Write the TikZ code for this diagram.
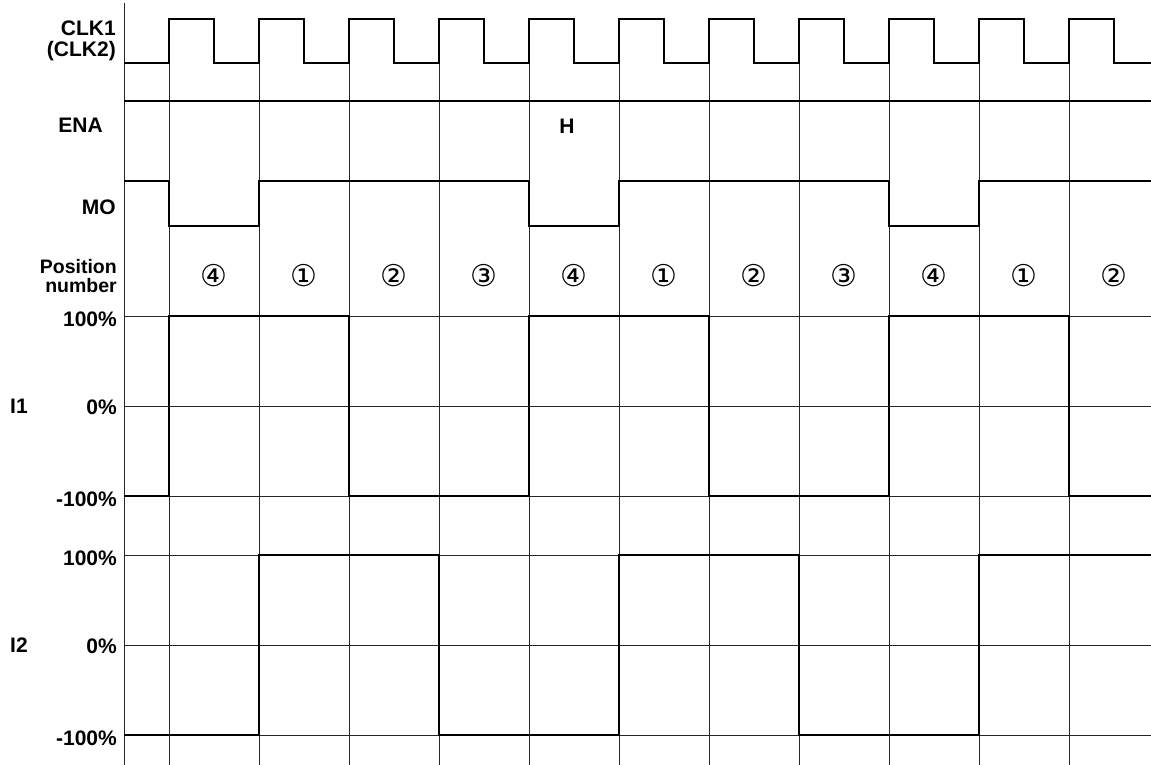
\documentclass[tikz,border=0pt]{standalone}
\usepackage{fontspec}
\setmainfont{Liberation Sans}
\newfontfamily\circfont{DejaVu Sans}
\usepackage{tikz}
\usetikzlibrary{positioning}

\newcommand{\circnum}[1]{{\circfont\ifcase#1\or ①\or ②\or ③\or ④\fi}}

\tikzset{
  gridline/.style={line width=0.8pt, black!85},
  sig/.style={line width=2pt, line join=miter},
  lbl/.style={font=\bfseries\fontsize{21}{21}\selectfont, anchor=east, align=right, inner sep=0pt},
}

\begin{document}
\begin{tikzpicture}[x=1pt, y=-1pt]
\useasboundingbox (0,0) rectangle (1151,765);
% grid
\draw[gridline] (124,3) -- (124,765);
\foreach \k in {0,...,10}
  \draw[gridline] ({169+90*\k},63) -- ({169+90*\k},765);
\foreach \y in {316,406,496,555,645,735}
  \draw[gridline] (124,\y) -- (1151,\y);

% signals
\draw[sig] (124,63) \foreach \k in {0,...,10} {
    -- ({169+90*\k},63) -- ({169+90*\k},19) -- ({214+90*\k},19) -- ({214+90*\k},63) } -- (1151,63);
\draw[sig] (124,101) -- (1151,101);
\draw[sig] (124,181) -- (169,181) -- (169,226) -- (259,226) -- (259,181) -- (529,181)
  -- (529,226) -- (619,226) -- (619,181) -- (889,181) -- (889,226) -- (979,226)
  -- (979,181) -- (1151,181);
\draw[sig] (124,496) -- (169,496) -- (169,316) -- (349,316) -- (349,496) -- (529,496)
  -- (529,316) -- (709,316) -- (709,496) -- (889,496) -- (889,316) -- (1069,316)
  -- (1069,496) -- (1151,496);
\draw[sig] (124,735) -- (259,735) -- (259,555) -- (439,555) -- (439,735) -- (619,735)
  -- (619,555) -- (799,555) -- (799,735) -- (979,735) -- (979,555) -- (1151,555);

% labels
\node[lbl] (clk) at (116,41) {CLK1\\(CLK2)};
\node[lbl] (ena) at (103,125) {ENA};
\node[lbl] (mo) at (116,207) {MO};
\node[lbl, font=\bfseries\fontsize{19.5}{19.5}\selectfont] (pos) at (117,276) {Position\\number};
\node[lbl] (h) at (567,126) [anchor=center] {H};
\node[lbl] (ione) at (10,406) [anchor=west] {I1};
\node[lbl] (itwo) at (10,645) [anchor=west] {I2};
\node[lbl] (ione-p) at (117,319) {100\%};
\node[lbl] (ione-z) at (117,407) {0\%};
\node[lbl] (ione-m) at (117,499) {-100\%};
\node[lbl] (itwo-p) at (117,558) {100\%};
\node[lbl] (itwo-z) at (117,646) {0\%};
\node[lbl] (itwo-m) at (117,738) {-100\%};
\foreach \n [count=\k from 0] in {4,1,2,3,4,1,2,3,4,1,2}
  \node[font=\fontsize{30}{32}\selectfont, inner sep=0pt] (pn\k) at ({214+90*\k},276) {\circnum{\n}};
\end{tikzpicture}
\end{document}
